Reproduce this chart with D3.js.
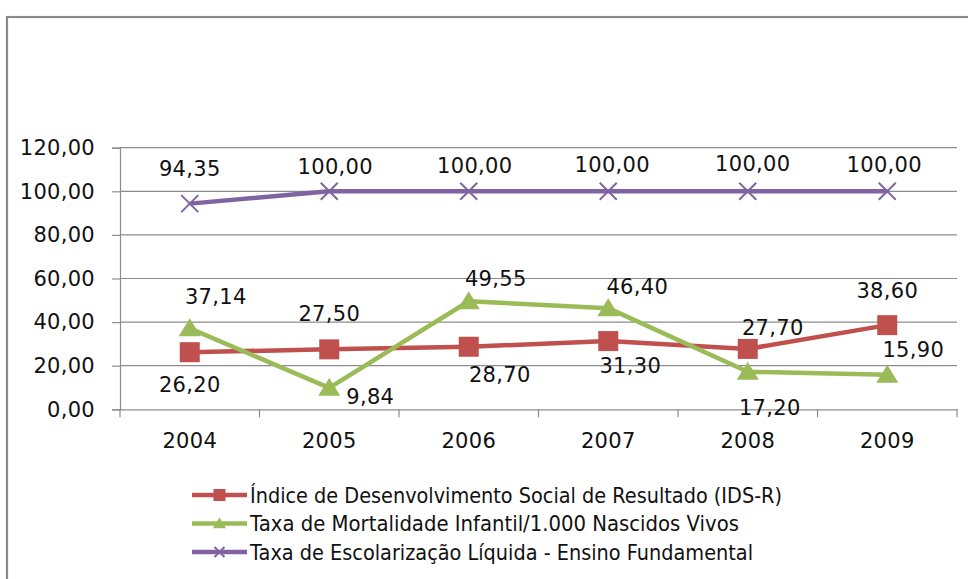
<!DOCTYPE html>
<html>
<head>
<meta charset="utf-8">
<script src="https://cdn.jsdelivr.net/npm/d3@7"></script>
<style>
  body { margin: 0; background: #fff; }
  svg text { font-family: "DejaVu Sans", sans-serif; fill: #111; }
</style>
</head>
<body>
<div id="chart"></div>
<script>
// data
var years = ["2004", "2005", "2006", "2007", "2008", "2009"];
var idsR = [26.2, 27.5, 28.7, 31.3, 27.7, 38.6];
var mortalidade = [37.14, 9.84, 49.55, 46.4, 17.2, 15.9];
var escolarizacao = [94.35, 100, 100, 100, 100, 100];
var yTicks = [0, 20, 40, 60, 80, 100, 120];
var seriesNames = [
  "Índice de Desenvolvimento Social de Resultado (IDS-R)",
  "Taxa de Mortalidade Infantil/1.000 Nascidos Vivos",
  "Taxa de Escolarização Líquida - Ensino Fundamental"
];

// label nudges (px) per point, like the hand-moved labels in the original
var nudgeIds = [[0, 32], [0, -36], [31, 28], [22, 24], [25, -21], [0, -35]];
var nudgeMort = [[26, -32], [41, 9], [27, -23], [29, -22], [22, 36], [26, -25]];
var nudgeEsc = [[0, -35], [6, -25], [6, -26], [4, -27], [5, -28], [-3, -27]];

const width = 968, height = 579;
const margin = { top: 147.7, right: 11, bottom: 169.7, left: 120 };

const svg = d3.select("#chart").append("svg")
  .attr("width", width)
  .attr("height", height);

// outer frame (only top and left are visible in the crop)
svg.append("rect")
  .attr("x", 7).attr("y", 17)
  .attr("width", 1200).attr("height", 1200)
  .attr("fill", "none")
  .attr("stroke", "#8a8a8a")
  .attr("stroke-width", 2.2);

const x = d3.scaleBand()
  .domain(years)
  .range([margin.left, width - margin.right]);

const y = d3.scaleLinear()
  .domain([0, 120])
  .range([height - margin.bottom, margin.top]);

const fmt = function (v) { return d3.format(".2f")(v).replace(".", ","); };

// gridlines
svg.append("g")
  .selectAll("line")
  .data(yTicks.filter(function (d) { return d > 0; }))
  .join("line")
  .attr("x1", margin.left)
  .attr("x2", width - margin.right)
  .attr("y1", function (d) { return y(d); })
  .attr("y2", function (d) { return y(d); })
  .attr("stroke", "#8c8c8c")
  .attr("stroke-width", 1.2);

// y axis
const yAxis = svg.append("g")
  .attr("transform", `translate(${margin.left},0)`)
  .call(d3.axisLeft(y).tickValues(yTicks).tickFormat(fmt).tickSize(8).tickPadding(17));
yAxis.selectAll("line, path").attr("stroke", "#8c8c8c").attr("stroke-width", 1.2);
yAxis.selectAll("text")
  .attr("font-size", "21px")
  .attr("letter-spacing", "0.3px")
  .attr("fill", "#111");

// x axis
const xAxis = svg.append("g")
  .attr("transform", `translate(0,${y(0)})`)
  .call(d3.axisBottom(x).tickSize(0).tickPadding(24));
xAxis.select("path").attr("stroke", "#8c8c8c").attr("stroke-width", 1.2);
xAxis.selectAll("text")
  .attr("font-size", "21px")
  .attr("letter-spacing", "0.3px")
  .attr("fill", "#111");
// tick marks between categories
svg.append("g")
  .selectAll("line")
  .data(years.concat(["end"]))
  .join("line")
  .attr("x1", function (d, i) { return margin.left + i * x.step(); })
  .attr("x2", function (d, i) { return margin.left + i * x.step(); })
  .attr("y1", y(0))
  .attr("y2", y(0) + 8)
  .attr("stroke", "#8c8c8c")
  .attr("stroke-width", 1.2);

const cx = function (d, i) { return x(years[i]) + x.bandwidth() / 2; };
const line = d3.line()
  .x(function (d, i) { return cx(d, i); })
  .y(function (d) { return y(d); });

const series = [
  { values: idsR, color: "#C0504D", marker: "square", nudge: nudgeIds },
  { values: mortalidade, color: "#9BBB59", marker: "triangle", nudge: nudgeMort },
  { values: escolarizacao, color: "#8064A2", marker: "x", nudge: nudgeEsc }
];

function drawMarker(g, type, color, px, py, s) {
  if (type === "square") {
    g.append("rect")
      .attr("x", px - s / 2).attr("y", py - s / 2)
      .attr("width", s).attr("height", s)
      .attr("fill", color);
  } else if (type === "triangle") {
    g.append("path")
      .attr("d", `M${px},${py - s * 0.5}L${px + s * 0.55},${py + s * 0.4}L${px - s * 0.55},${py + s * 0.4}Z`)
      .attr("fill", color);
  } else {
    var h = s / 2;
    g.append("path")
      .attr("d", `M${px - h},${py - h}L${px + h},${py + h}M${px - h},${py + h}L${px + h},${py - h}`)
      .attr("stroke", color)
      .attr("stroke-width", 2);
  }
}

series.forEach(function (s) {
  svg.append("path")
    .datum(s.values)
    .attr("d", line)
    .attr("fill", "none")
    .attr("stroke", s.color)
    .attr("stroke-width", 4.5)
    .attr("stroke-linejoin", "round");
  const mg = svg.append("g");
  s.values.forEach(function (v, i) {
    drawMarker(mg, s.marker, s.color, cx(v, i), y(v), s.marker === "x" ? 17 : 20);
  });
});

// data labels
series.forEach(function (s) {
  svg.append("g")
    .selectAll("text")
    .data(s.values)
    .join("text")
    .attr("x", function (d, i) { return cx(d, i) + s.nudge[i][0]; })
    .attr("y", function (d, i) { return y(d) + s.nudge[i][1]; })
    .attr("dy", "0.36em")
    .attr("text-anchor", "middle")
    .attr("font-size", "21px")
    .attr("letter-spacing", "0.3px")
    .text(function (d) { return fmt(d); });
});

// legend
var legendLen = [532, 489, 503];
const legend = svg.append("g");
series.forEach(function (s, i) {
  var ly = 495 + i * 28.5;
  legend.append("line")
    .attr("x1", 192).attr("x2", 247)
    .attr("y1", ly).attr("y2", ly)
    .attr("stroke", s.color)
    .attr("stroke-width", 4.5);
  drawMarker(legend, s.marker, s.color, 219.5, ly, s.marker === "x" ? 10 : 12);
  legend.append("text")
    .attr("x", 250)
    .attr("y", ly)
    .attr("dy", "0.36em")
    .attr("font-size", "21px")
    .attr("textLength", legendLen[i])
    .attr("lengthAdjust", "spacingAndGlyphs")
    .text(seriesNames[i]);
});
</script>
</body>
</html>
